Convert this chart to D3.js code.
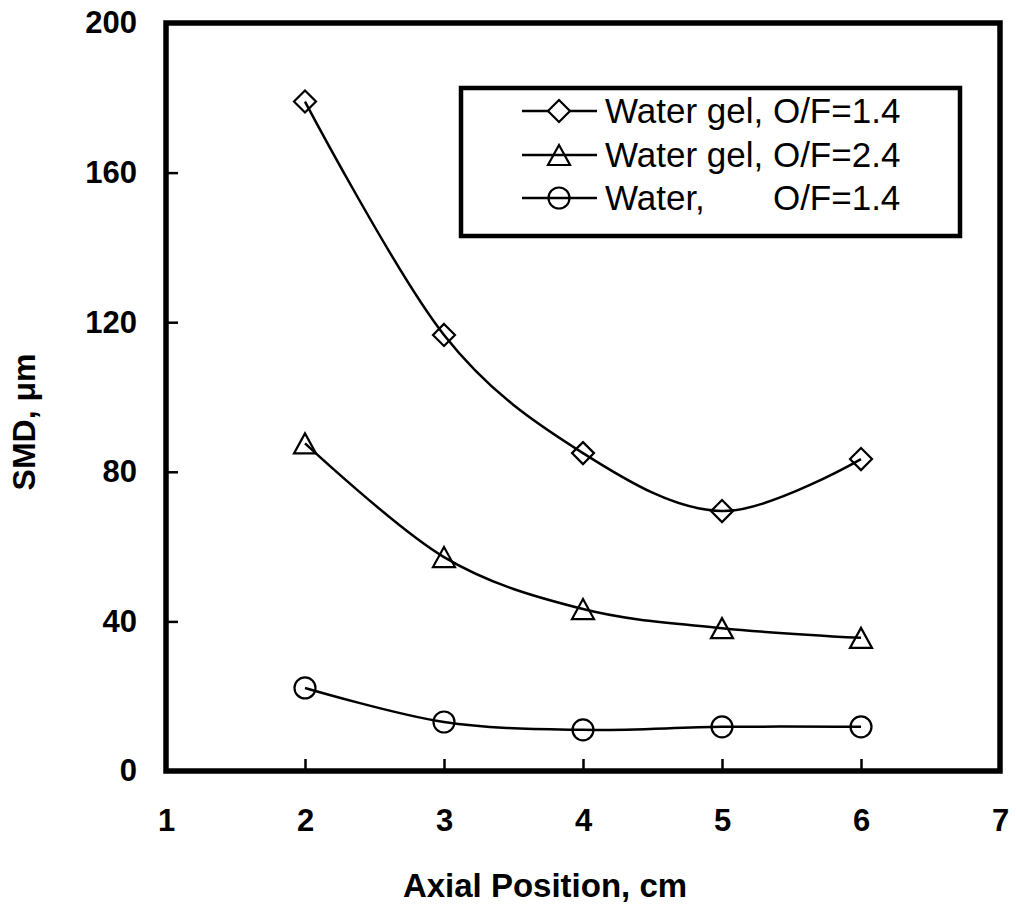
<!DOCTYPE html>
<html>
<head>
<meta charset="utf-8">
<script src="https://cdn.jsdelivr.net/npm/d3@7"></script>
<style>
  html, body { margin: 0; padding: 0; background: #fff; }
  svg { display: block; }
  text { font-family: "Liberation Sans", Arial, sans-serif; fill: #000; }
</style>
</head>
<body>
<svg id="chart" width="1016" height="918"></svg>
<script>
// Axial positions (cm) where droplet size was measured
const positions = [2, 3, 4, 5, 6];
// Sauter mean diameter (µm) for each case
const gelOF14 = [179.0, 116.6, 85.0, 69.5, 83.4];
const gelOF24 = [87.6, 57.2, 43.3, 38.2, 35.6];
const waterOF14 = [22.2, 13.1, 11.0, 11.8, 11.8];

const seriesNames = ["Water gel, O/F=1.4", "Water gel, O/F=2.4", "Water,       O/F=1.4"];
const seriesMarkers = ["diamond", "triangle", "circle"];

const xTicks = [1, 2, 3, 4, 5, 6, 7];
const yTicks = [0, 40, 80, 120, 160, 200];

const xTitle = "Axial Position, cm";
const yTitle = "SMD, \u03bcm";

const svg = d3.select("#chart");
const plot = { left: 166, right: 1000, top: 23, bottom: 771 };

const x = d3.scaleLinear().domain([1, 7]).range([plot.left, plot.right]);
const y = d3.scaleLinear().domain([0, 200]).range([plot.bottom, plot.top]);

// Axes with inward ticks
const yAxis = d3.axisLeft(y).tickValues(yTicks).tickFormat(d3.format("d"))
  .tickSizeInner(-12).tickSizeOuter(0).tickPadding(29);
const xAxis = d3.axisBottom(x).tickValues(xTicks).tickFormat(d3.format("d"))
  .tickSizeInner(-12).tickSizeOuter(0).tickPadding(38);

const gy = svg.append("g").attr("transform", `translate(${plot.left},0)`).call(yAxis);
const gx = svg.append("g").attr("transform", `translate(0,${plot.bottom})`).call(xAxis);

[gx, gy].forEach(g => {
  g.select(".domain").remove();
  g.selectAll(".tick line").attr("stroke", "#000").attr("stroke-width", 2.5);
  g.selectAll(".tick text")
    .style("font-family", '"Liberation Sans", Arial, sans-serif')
    .style("font-weight", "bold")
    .style("font-size", "31px")
    .attr("fill", "#000");
});

// Plot frame
svg.append("rect")
  .attr("x", plot.left).attr("y", plot.top)
  .attr("width", plot.right - plot.left).attr("height", plot.bottom - plot.top)
  .attr("fill", "none").attr("stroke", "#000").attr("stroke-width", 5.5);

// Axis titles
svg.append("text")
  .attr("x", (plot.left + plot.right) / 2 - 38).attr("y", 897)
  .attr("text-anchor", "middle")
  .style("font-weight", "bold").style("font-size", "33px")
  .text(xTitle);

svg.append("text")
  .attr("transform", "translate(35,422) rotate(-90)")
  .attr("text-anchor", "middle")
  .style("font-weight", "bold").style("font-size", "32px")
  .text(yTitle);

// Marker shapes
function drawMarker(g, kind, cx, cy, fill) {
  if (kind === "circle") {
    g.append("circle").attr("cx", cx).attr("cy", cy).attr("r", 10.5)
      .attr("fill", fill).attr("stroke", "#000").attr("stroke-width", 2.2);
  } else {
    const d = kind === "diamond" ? "M0,-11 L11,0 L0,11 L-11,0 Z" : "M0,-10 L11,10 L-11,10 Z";
    g.append("path").attr("d", d)
      .attr("transform", `translate(${cx},${cy})`)
      .attr("fill", fill).attr("stroke", "#000").attr("stroke-width", 2.2);
  }
}

const allSeries = [gelOF14, gelOF24, waterOF14];
const line = d3.line()
  .x(d => x(d[0])).y(d => y(d[1]))
  .curve(d3.curveCatmullRom.alpha(0));

allSeries.forEach((vals, i) => {
  const pts = positions.map((p, j) => [p, vals[j]]);
  const g = svg.append("g");
  g.append("path").attr("d", line(pts))
    .attr("fill", "none").attr("stroke", "#000").attr("stroke-width", 2.5);
  pts.forEach(p => drawMarker(g, seriesMarkers[i], x(p[0]), y(p[1]), "none"));
});

// Legend
const legend = svg.append("g");
legend.append("rect")
  .attr("x", 461).attr("y", 88).attr("width", 499).attr("height", 148)
  .attr("fill", "#fff").attr("stroke", "#000").attr("stroke-width", 4.5);

const rowY = [111, 155, 198];
seriesNames.forEach((name, i) => {
  const gy0 = rowY[i];
  legend.append("line").attr("x1", 522).attr("x2", 597).attr("y1", gy0).attr("y2", gy0)
    .attr("stroke", "#000").attr("stroke-width", 2.5);
  drawMarker(legend, seriesMarkers[i], 559, gy0, seriesMarkers[i] === "diamond" ? "#fff" : "none");
  legend.append("text")
    .attr("x", 605).attr("y", gy0 + 12)
    .style("font-size", "35px")
    .style("white-space", "pre")
    .attr("xml:space", "preserve")
    .text(name);
});
</script>
</body>
</html>
